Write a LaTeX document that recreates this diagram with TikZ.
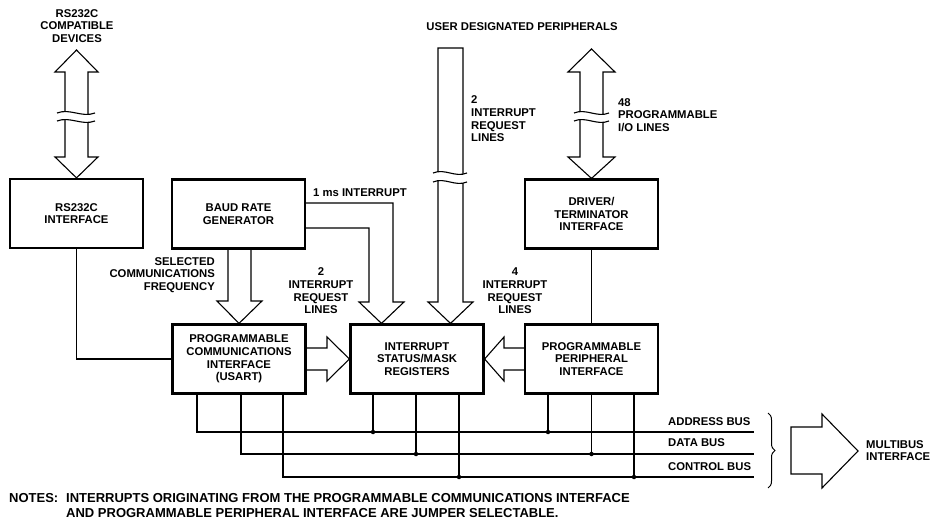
\documentclass[tikz,border=0pt]{standalone}
\usepackage{fontspec}
\setmainfont{Liberation Sans}
\usetikzlibrary{decorations.pathreplacing}
\newcommand\lblfont{\fontsize{11.3}{12.7}\selectfont\bfseries}
\newcommand\notefont{\fontsize{13}{15}\selectfont\bfseries}
\begin{document}
\begin{tikzpicture}[x=1pt,y=-1pt,
  box/.style={draw, line width=2.2pt, minimum width=133pt, minimum height=69pt, align=center, inner sep=0pt, font=\lblfont},
  conn/.style={line width=1.1pt, line join=miter},
  lbl/.style={font=\lblfont, inner sep=0pt},
  note/.style={font=\notefont, inner sep=0pt},
  busdot/.style={circle, fill, inner sep=0pt, minimum size=4.5pt},
  wave/.style={line width=1.1pt}]
\useasboundingbox (0,0) rectangle (934,521);

% boxes
\node[box] (rsi) at (76.5,213.5) {RS232C\\INTERFACE};
\node[box] (brg) at (238.5,214) {BAUD RATE\\GENERATOR};
\node[box] (dti) at (591.5,214) {DRIVER/\\TERMINATOR\\INTERFACE};
\node[box] (pci) at (239,359) {PROGRAMMABLE\\COMMUNICATIONS\\INTERFACE\\(USART)};
\node[box] (isr) at (417,359) {INTERRUPT\\STATUS/MASK\\REGISTERS};
\node[box] (ppi) at (591.5,359) {PROGRAMMABLE\\PERIPHERAL\\INTERFACE};

% labels
\node[lbl, align=center] (rsl) at (77,26) {RS232C\\COMPATIBLE\\DEVICES};
\node[lbl] (udp) at (522,27) {USER DESIGNATED PERIPHERALS};
\node[lbl, align=left, anchor=west] (irq2) at (471,119) {2\\INTERRUPT\\REQUEST\\LINES};
\node[lbl, align=left, anchor=west] (io48) at (618,115) {48\\PROGRAMMABLE\\I/O LINES};
\node[lbl, anchor=west] (ms) at (313,193) {1 ms INTERRUPT};
\node[lbl, align=right, anchor=east] (scf) at (215,275) {SELECTED\\COMMUNICATIONS\\FREQUENCY};
\node[lbl, align=center] (irqa) at (321,291) {2\\INTERRUPT\\REQUEST\\LINES};
\node[lbl, align=center] (irqb) at (515,291) {4\\INTERRUPT\\REQUEST\\LINES};
\node[lbl, anchor=west] (abl) at (668,422) {ADDRESS BUS};
\node[lbl, anchor=west] (dbl) at (668,443) {DATA BUS};
\node[lbl, anchor=west] (cbl) at (668,467) {CONTROL BUS};
\node[lbl, align=left, anchor=west] (mbi) at (866,450.5) {MULTIBUS\\INTERFACE};
\node[note, anchor=west] (nt) at (9,498) {NOTES:};
\node[note, align=left, anchor=west] (ntx) at (66,505.5) {INTERRUPTS ORIGINATING FROM THE PROGRAMMABLE COMMUNICATIONS INTERFACE\\AND PROGRAMMABLE PERIPHERAL INTERFACE ARE JUMPER SELECTABLE.};

% RS232C double arrow with break
\draw[conn] (65,72) -- (55,72) -- (76.5,50) -- (98,72) -- (88,72) -- (88,157) -- (98,157) -- (rsi.north) -- (55,157) -- (65,157) -- cycle;
\fill[white] (57,113) .. controls (70.3,108) and (81.7,118) .. (95,113) -- (95,121) .. controls (81.7,126) and (70.3,116) .. (57,121) -- cycle;
\draw[wave] (57,113) .. controls (70.3,108) and (81.7,118) .. (95,113);
\draw[wave] (57,121) .. controls (70.3,116) and (81.7,126) .. (95,121);

% Driver double arrow with break
\draw[conn] (580,72) -- (568,72) -- (591.5,49) -- (615,72) -- (603,72) -- (603,157) -- (615,157) -- (dti.north) -- (568,157) -- (580,157) -- cycle;
\fill[white] (574,113) .. controls (586,108) and (597,118) .. (609,113) -- (609,121) .. controls (597,126) and (586,116) .. (574,121) -- cycle;
\draw[wave] (574,113) .. controls (586,108) and (597,118) .. (609,113);
\draw[wave] (574,121) .. controls (586,116) and (597,126) .. (609,121);

% user peripheral interrupt bar with break
\coordinate (t2) at (isr.north -| 450.5,0);
\draw[conn] (438,302) -- (438,48) -- (463,48) -- (463,302) -- (473,302) -- (t2) -- (428,302) -- cycle;
\fill[white] (433,173) .. controls (445,168) and (455,178) .. (467,173) -- (467,182) .. controls (455,187) and (445,177) .. (433,182) -- cycle;
\draw[wave] (433,173) .. controls (445,168) and (455,178) .. (467,173);
\draw[wave] (433,182) .. controls (445,177) and (455,187) .. (467,182);

% baud rate interrupt lines forming hollow arrow
\coordinate (t1) at (isr.north -| 381.5,0);
\draw[conn] (brg.east |- 0,203) -| (393,302) -- (404,302) -- (t1) -- (359,302) -- (369,302) |- (brg.east |- 0,228);

% baud rate to USART hollow arrow
\draw[conn] (brg.south -| 228,0) -- (228,301) -- (217,301) -- (pci.north) -- (262,301) -- (251,301) -- (brg.south -| 251,0);

% RS232C interface to USART
\draw[conn] (rsi.south) |- (pci.west);

% driver to PPI
\draw[conn] (dti.south) -- (ppi.north);

% USART -> interrupt registers
\draw[conn] (pci.east |- 0,348) -- (327,348) -- (327,337) -- (isr.west) -- (327,381) -- (327,370) -- (pci.east |- 0,370);
% PPI -> interrupt registers
\draw[conn] (ppi.west |- 0,348) -- (504,348) -- (504,337) -- (isr.east) -- (504,381) -- (504,370) -- (ppi.west |- 0,370);

% buses
\coordinate (abE) at (754,432);
\coordinate (dbE) at (754,454);
\coordinate (cbE) at (754,477);
\draw[conn] (pci.south -| 197,0) |- (abE);
\draw[conn] (pci.south -| 241,0) |- (dbE);
\draw[conn] (pci.south -| 283,0) |- (cbE);
\draw[conn] (isr.south -| 373,0) -- (373,432) node[busdot]{};
\draw[conn] (isr.south -| 416,0) -- (416,454) node[busdot]{};
\draw[conn] (isr.south -| 459,0) -- (459,477) node[busdot]{};
\draw[conn] (ppi.south -| 548,0) -- (548,432) node[busdot]{};
\draw[conn] (ppi.south -| 591.5,0) -- (591.5,454) node[busdot]{};
\draw[conn] (ppi.south -| 634,0) -- (634,477) node[busdot]{};

% brace and multibus arrow
\draw[line width=1pt, decorate, decoration={brace, amplitude=7pt}] (768,413) -- (768,488);
\draw[conn] (791,427) -- (822,427) -- (822,414) -- (858,451) -- (822,488) -- (822,474) -- (791,474) -- cycle;
\end{tikzpicture}
\end{document}
